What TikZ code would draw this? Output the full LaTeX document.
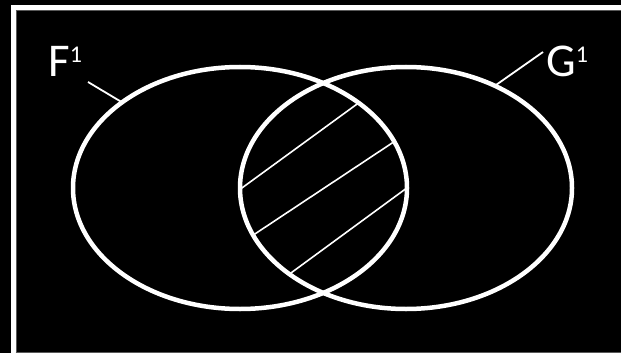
\documentclass[tikz,border=0pt]{standalone}
\usepackage{fontspec}
\setmainfont{Carlito}
\usetikzlibrary{shapes.geometric}
\begin{document}
\begin{tikzpicture}[x=1pt,y=-1pt,
  setell/.style={draw=white, line width=4.5pt, ellipse, minimum width=334pt, minimum height=242pt, inner sep=0pt, outer sep=0pt},
  hatchline/.style={draw=white, line width=1.6pt},
  leader/.style={draw=white, line width=1.8pt},
  setlabel/.style={text=white, anchor=base west, inner sep=0pt, font=\fontsize{47}{47}\selectfont}]
\fill[black] (0,0) rectangle (621,353);
\useasboundingbox (0,0) rectangle (621,353);
% frame
\draw[white, line width=5pt] (11,7.5) -- (621,7.5);
\draw[white, line width=4.5pt] (13.25,5) -- (13.25,353);
\draw[black!65, line width=1pt] (15.5,10.5) -- (621,10.5);
\draw[black!65, line width=1pt] (16,10.5) -- (16,353);
\draw[black!65, line width=1.2pt] (15.5,352.4) -- (621,352.4);
% hatching in the intersection
\begin{scope}
  \clip (240,188) ellipse [x radius=167pt, y radius=121pt];
  \clip (406,188) ellipse [x radius=166pt, y radius=121pt];
  \draw[hatchline] (187,228) -- (412,64);
  \draw[hatchline] (187,279) -- (460,98);
  \draw[hatchline] (235,314) -- (460,149);
\end{scope}
% sets
\node[setell] (F) at (240,188) {};
\node[setell, minimum width=332pt] (G) at (406,188) {};
% labels
\node[setlabel] (Flab) at (48,77) {F\raisebox{14pt}{\fontsize{24}{24}\selectfont 1}};
\node[setlabel] (Glab) at (546,77) {G\raisebox{14pt}{\fontsize{24}{24}\selectfont 1}};
\coordinate (fend) at (88,82);
\coordinate (gend) at (543,52);
\draw[leader] (fend) -- (F.144);
\draw[leader] (gend) -- (G.49);
\end{tikzpicture}
\end{document}
